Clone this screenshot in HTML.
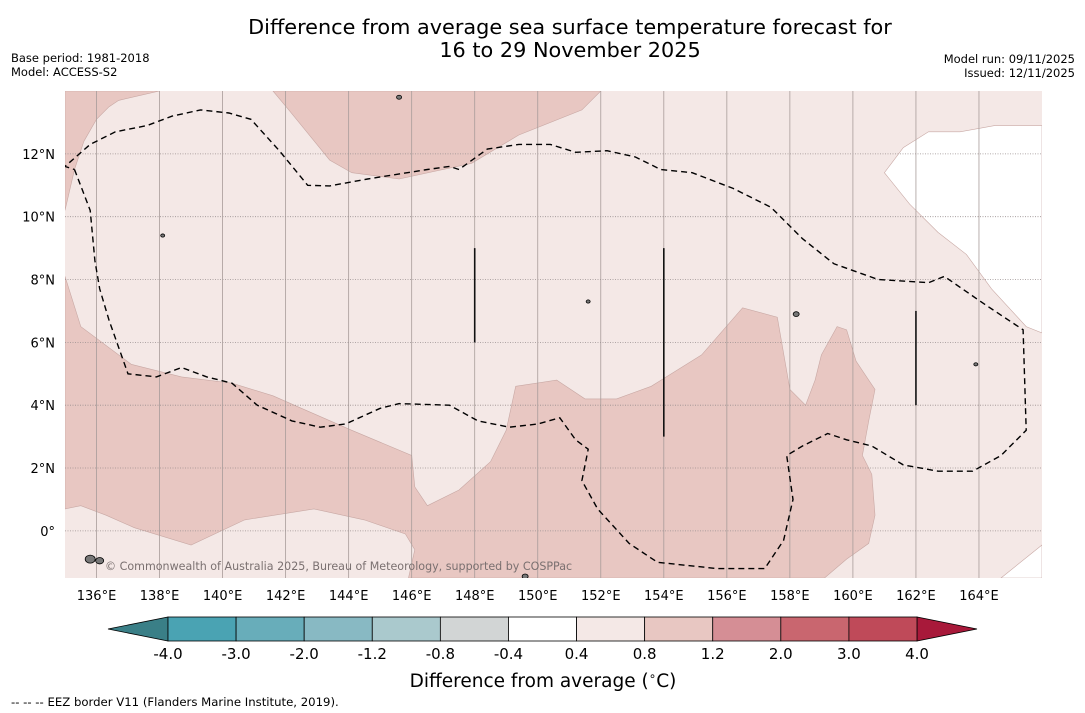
<!DOCTYPE html>
<html><head><meta charset="utf-8">
<style>
body{margin:0;background:#fff;font-family:"Liberation Sans","DejaVu Sans",sans-serif;}
#wrap{position:relative;width:1085px;height:713px;overflow:hidden;}
</style></head>
<body>
<div id="wrap">
<svg id="svg" width="1085" height="713" xmlns="http://www.w3.org/2000/svg" font-family="DejaVu Sans, Liberation Sans, sans-serif">
<text x="570" y="34" font-size="20.8" text-anchor="middle">Difference from average sea surface temperature forecast for</text>
<text x="570" y="57" font-size="20.8" text-anchor="middle">16 to 29 November 2025</text>
<text x="11" y="62" font-size="11.5">Base period: 1981-2018</text>
<text x="11" y="76" font-size="11.5">Model: ACCESS-S2</text>
<text x="1075" y="63" font-size="11.5" text-anchor="end">Model run: 09/11/2025</text>
<text x="1075" y="77" font-size="11.5" text-anchor="end">Issued: 12/11/2025</text>
<g id="map"></g>
<g id="cbar"></g>
<text x="543" y="687" font-size="18.5" text-anchor="middle">Difference from average (<tspan baseline-shift="super" font-size="12">∘</tspan>C)</text>
<text x="11" y="706" font-size="11.7">--  --  -- EEZ border V11 (Flanders Marine Institute, 2019).</text>
</svg>
</div>
<script>
const lonTicks=[136,138,140,142,144,146,148,150,152,154,156,158,160,162,164];
const latTicks=[12,10,8,6,4,2,0];
const cbLevels=[-4.0,-3.0,-2.0,-1.2,-0.8,-0.4,0.4,0.8,1.2,2.0,3.0,4.0];
const cbColors=["#4aa3b3","#68adba","#88b9c3","#aac9cd","#d2d5d5","#ffffff","#f4e8e6","#e8c7c2","#d58e95","#c9666f","#bf4a59"];
// contour polygons [lon,lat]
const darkTop=[[141.6,14],[142.1,13.4],[143.4,11.8],[144.1,11.4],[145.6,11.2],[147.9,11.7],[149.4,12.6],[151.4,13.4],[152,14]];
const darkCorner=[[135,14],[138,14],[136.7,13.7],[136.4,13.5],[136,13.1],[135.6,12.4],[135.3,11.5],[135,10.2]];
const darkMain=[[135,8.1],[135.5,6.5],[137.1,5.3],[138.7,4.9],[140.3,4.7],[141.6,4.3],[142.5,3.9],[144.1,3.2],[146,2.4],[146.1,1.4],[146.5,0.8],[147.5,1.3],[148.5,2.2],[149,3.2],[149.3,4.6],[150.6,4.8],[151.5,4.2],[152.5,4.2],[153.6,4.6],[155.2,5.6],[156.5,7.1],[157.6,6.8],[158,4.5],[158.5,4],[158.8,4.8],[159,5.6],[159.5,6.5],[159.8,6.4],[160.1,5.4],[160.7,4.5],[160.5,3.5],[160.3,2.4],[160.6,1.8],[160.7,0.5],[160.5,-0.4],[159.8,-0.9],[159.1,-1.5],[145.9,-1.5],[146.1,-0.6],[145.8,-0.1],[144.5,0.35],[142.9,0.7],[140.7,0.35],[139,-0.45],[137.2,0.1],[136.3,0.5],[135.5,0.8],[135,0.7]];
const whiteTR=[[166,12.9],[164.5,12.9],[163.4,12.7],[162.4,12.7],[161.6,12.2],[161,11.4],[161.8,10.4],[162.7,9.5],[163.6,8.8],[164.4,7.7],[165.5,6.5],[166,6.3]];
const whiteBR=[[166,-0.45],[164.7,-1.5],[166,-1.5]];
const eez=[[135.3,11.5],[135.8,10.2],[135.95,8.6],[136.1,7.7],[136.4,6.7],[137,5],[137.9,4.9],[138.7,5.2],[139.5,4.9],[140.3,4.7],[141.1,4],[142.2,3.5],[143.1,3.3],[143.9,3.4],[145,3.9],[145.6,4.05],[147.2,4],[148.1,3.5],[149.1,3.3],[150,3.4],[150.7,3.6],[151.2,2.9],[151.6,2.6],[151.4,1.6],[151.9,0.7],[152.9,-0.4],[153.8,-1],[155.7,-1.2],[157.2,-1.2],[157.8,-0.3],[158.1,1],[157.9,2.4],[158.4,2.7],[159.2,3.1],[159.8,2.9],[160.6,2.7],[161.6,2.1],[162.7,1.9],[163.8,1.9],[164.7,2.4],[165.5,3.2],[165.4,6.4],[164.2,7.2],[162.9,8.1],[162.4,7.9],[160.8,8],[159.4,8.5],[158.4,9.3],[157.4,10.3],[156.2,10.9],[154.9,11.4],[153.9,11.5],[153.1,11.9],[152.2,12.1],[151.2,12.05],[150.4,12.3],[149.4,12.3],[148.4,12.15],[147.5,11.5],[147.2,11.6],[146.5,11.5],[144.6,11.2],[143.4,10.98],[142.7,11.0],[141.8,12.1],[140.9,13.1],[140.2,13.3],[139.3,13.4],[138.4,13.2],[137.6,12.9],[136.6,12.7],[135.8,12.3],[135,11.6],[135.3,11.5]];
const meridianBars=[[148,9,6],[154,9,3],[162,7,4]];
const islands=[[145.6,13.8,2.5],[138.1,9.4,2],[151.6,7.3,2],[158.2,6.9,3],[163.9,5.3,2],[135.8,-0.9,5],[136.1,-0.95,4],[149.6,-1.45,3]];

const L=65,R=1042,T=91,B=578,lon0=135,lon1=166,lat0=-1.5,lat1=14;
const x=lon=>L+(lon-lon0)/(lon1-lon0)*(R-L);
const y=lat=>B-(lat-lat0)/(lat1-lat0)*(B-T);
const NS="http://www.w3.org/2000/svg";
function mk(tag,attrs,parent){const e=document.createElementNS(NS,tag);for(const k in attrs)e.setAttribute(k,attrs[k]);parent.appendChild(e);return e;}
const pts=a=>a.map(p=>x(p[0]).toFixed(1)+","+y(p[1]).toFixed(1)).join(" ");
const map=document.getElementById('map');
const defs=mk('defs',{},map);
const cp=mk('clipPath',{id:'clip'},defs);
mk('rect',{x:L,y:T,width:R-L,height:B-T},cp);
const g=mk('g',{'clip-path':'url(#clip)'},map);
let bg=mk('rect',{x:L,y:T,width:R-L,height:B-T,fill:'#f4e8e6'},g);


[[darkTop,'#e8c7c2','anomaly-region-north'],[darkCorner,'#e8c7c2','anomaly-region-northwest'],[darkMain,'#e8c7c2','anomaly-region-south'],[whiteTR,'#ffffff','neutral-region-northeast'],[whiteBR,'#ffffff','neutral-region-southeast']].forEach(([p,c,n])=>{
 const e=mk('polygon',{points:pts(p),fill:c,stroke:'#c8a8a4','stroke-width':0.6},g);
 
 
});
lonTicks.forEach(l=>{
 const e=mk('line',{x1:x(l),x2:x(l),y1:T,y2:B,stroke:'#a89c9a','stroke-width':0.8},g);
 
 
});
latTicks.forEach(l=>{
 const e=mk('line',{x1:L,x2:R,y1:y(l),y2:y(l),stroke:'#9a9090','stroke-width':0.8,'stroke-dasharray':'1,1.5'},g);
 
 
});
let ez=mk('polyline',{points:pts(eez),fill:'none',stroke:'#000','stroke-width':1.4,'stroke-dasharray':'6,4'},g);


meridianBars.forEach(b=>{
 const e=mk('line',{x1:x(b[0]),x2:x(b[0]),y1:y(b[1]),y2:y(b[2]),stroke:'#111','stroke-width':1.6},g);
 
 
});
islands.forEach(i=>{
 const e=mk('ellipse',{cx:x(i[0]),cy:y(i[1]),rx:i[2],ry:i[2]*0.8,fill:'#777',stroke:'#000','stroke-width':0.8},g);
 
 
});
let cr=mk('text',{x:105,y:570,'font-size':11.1,fill:'#7a7070'},g);
cr.textContent='© Commonwealth of Australia 2025, Bureau of Meteorology, supported by COSPPac';


lonTicks.forEach(l=>{
 const t=mk('text',{x:x(l),y:600,'font-size':13,'text-anchor':'middle'},map);
 t.textContent=l+'°E';
 
 
});
latTicks.forEach(l=>{
 const t=mk('text',{x:55,y:y(l)+5,'font-size':13,'text-anchor':'end'},map);
 t.textContent=l===0?'0°':l+'°N';
 
 
});
// colorbar
const cb=document.getElementById('cbar');
const cx0=168,cx1=917,cy0=617,cy1=641;
const cxs=i=>cx0+i*(cx1-cx0)/(cbLevels.length-1);
let tl=mk('polygon',{points:`108,629 ${cx0},${cy0} ${cx0},${cy1}`,fill:'#3a7f87',stroke:'#000','stroke-width':0.8},cb);


let tr=mk('polygon',{points:`977,629 ${cx1},${cy0} ${cx1},${cy1}`,fill:'#a8193a',stroke:'#000','stroke-width':0.8},cb);


cbColors.forEach((c,i)=>{
 const e=mk('rect',{x:cxs(i),y:cy0,width:cxs(i+1)-cxs(i),height:cy1-cy0,fill:c,stroke:'#000','stroke-width':0.8},cb);
 
 
});
cbLevels.forEach((v,i)=>{
 const t=mk('text',{x:cxs(i),y:659,'font-size':15,'text-anchor':'middle'},cb);
 t.textContent=v.toFixed(1);
 
 
});
</script>
</body></html>
